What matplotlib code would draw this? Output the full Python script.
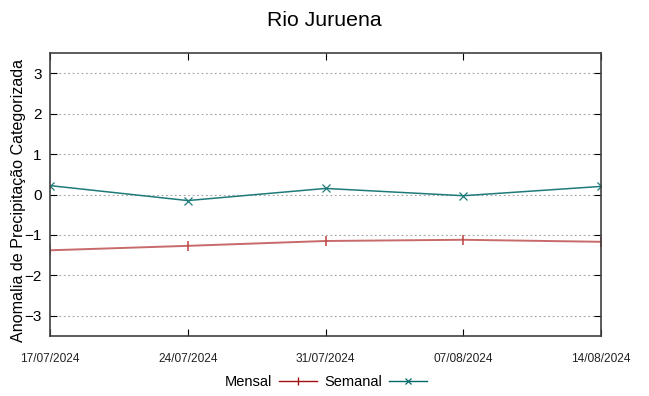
import matplotlib
matplotlib.use("Agg")
import matplotlib.pyplot as plt
from matplotlib.lines import Line2D

plt.rcParams["font.family"] = ["Liberation Sans", "DejaVu Sans"]

# dados
datas = ["17/07/2024", "24/07/2024", "31/07/2024", "07/08/2024", "14/08/2024"]
mensal = [-1.38, -1.27, -1.15, -1.12, -1.17]
semanal = [0.22, -0.15, 0.15, -0.03, 0.20]
titulo = "Rio Juruena"

fig = plt.figure(figsize=(6.49, 3.96), dpi=100)
ax = fig.add_axes([50 / 649, 60 / 396, 551 / 649, 283 / 396])

x = list(range(len(datas)))
ax.plot(x, mensal, color="#c86a6a", lw=1.4, marker="|", ms=7, mew=1.1,
        mec="#c04040", label="Mensal")
ax.plot(x, semanal, color="#1f7a7a", lw=1.1, marker="x", ms=5.5, mew=0.9,
        mec="#1f7a7a", label="Semanal")

ax.set_xlim(0, len(datas) - 1)
ax.set_ylim(-3.5, 3.5)
ax.set_yticks(range(-3, 4))
ax.set_xticks(x)
ax.set_xticklabels(datas, fontsize=8.6, color="#222222")
ax.tick_params(axis="y", labelsize=11, direction="in", length=5, right=True, pad=6)
ax.tick_params(axis="x", direction="in", length=5, top=True, pad=12)
ax.grid(axis="y", linestyle=(0, (1.5, 2.5)), color="#a0a0a0", lw=0.8)
for s in ax.spines.values():
    s.set_color("#404040")
    s.set_linewidth(1.2)

ax.set_ylabel("Anomalia de Precipitação Categorizada", fontsize=11.6)
ax.yaxis.set_label_coords(-0.044, 0.48)
fig.suptitle(titulo, fontsize=15.3, y=0.972)

# legenda estilo gnuplot
handles = [
    Line2D([], [], color="#a01010", lw=1.0, marker="|", ms=6, mew=1.0),
    Line2D([], [], color="#006a6a", lw=1.0, marker="x", ms=5, mew=0.9),
]
fig.legend(handles, ["Mensal", "Semanal"], loc="center", bbox_to_anchor=(0.502, 0.035),
           ncol=2, frameon=False, markerfirst=False, fontsize=10.5,
           handlelength=2.6, columnspacing=0.5, handletextpad=0.5)

fig.savefig("out.png", dpi=100)
